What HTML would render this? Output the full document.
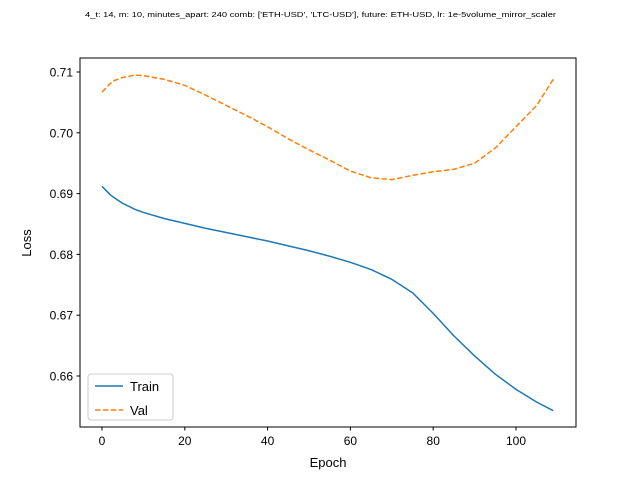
<!DOCTYPE html>
<html><head><meta charset="utf-8">
<style>
body{margin:0;background:#fff;}
svg{display:block;font-family:"Liberation Sans",sans-serif;}
</style></head>
<body>
<svg id="chart" width="640" height="480">
<rect width="640" height="480" fill="#fff"/>
<text x="85" y="17" font-size="7.6" textLength="471" lengthAdjust="spacingAndGlyphs">4_t: 14, m: 10, minutes_apart: 240 comb: ['ETH-USD', 'LTC-USD'], future: ETH-USD, lr: 1e-5volume_mirror_scaler</text>
<g id="plot"></g>
<rect x="80" y="58" width="496" height="369" fill="none" stroke="#000" stroke-width="1"/>
<text x="328" y="467" font-size="13" text-anchor="middle">Epoch</text>
<text x="31" y="243" font-size="13" text-anchor="middle" transform="rotate(-90 31 243)">Loss</text>
<g>
<rect x="88" y="374" width="85" height="46" rx="3" fill="#fff" fill-opacity="0.8" stroke="#ccc"/>
<line x1="95" y1="386" x2="123" y2="386" stroke="#1f77b4" stroke-width="1.5"/>
<text x="130" y="391" font-size="13">Train</text>
<line x1="95" y1="410" x2="123" y2="410" stroke="#ff7f0e" stroke-width="1.5" stroke-dasharray="5.5,2.4"/>
<text x="130" y="415" font-size="13">Val</text>
</g>
</svg>
<script>
const epochs = [0,1,2,3,5,8,10,15,20,25,30,35,40,45,50,55,60,65,70,75,80,85,90,95,100,105,109];
const trainLoss = [0.6912,0.6905,0.6898,0.6893,0.6884,0.6874,0.6869,0.6859,0.6851,0.6843,0.6836,0.6829,0.6822,0.6814,0.6806,0.6797,0.6787,0.6775,0.6759,0.6737,0.6703,0.6666,0.6633,0.6603,0.6578,0.6557,0.6543];
const valLoss = [0.7067,0.7074,0.7081,0.7086,0.7091,0.7095,0.7094,0.7088,0.7078,0.7062,0.7045,0.7028,0.7010,0.6990,0.6972,0.6955,0.6937,0.6926,0.6923,0.6930,0.6936,0.6940,0.6950,0.6975,0.7010,0.7045,0.7088];
const xTicks = [0,20,40,60,80,100];
const yTicks = [0.66,0.67,0.68,0.69,0.70,0.71];

const NS="http://www.w3.org/2000/svg";
const g=document.getElementById('plot');
function xs(v){return 102+(v)*4.14;}
function ys(v){return 72+(0.71-v)*6080;}
function mk(t,a){const e=document.createElementNS(NS,t);for(const k in a)e.setAttribute(k,a[k]);g.appendChild(e);return e;}
xTicks.forEach(t=>{
  const l=mk('line',{x1:xs(t),x2:xs(t),y1:427,y2:430.5,stroke:'#000'});
  
  
  const tx=mk('text',{x:xs(t),y:445,'font-size':12,'text-anchor':'middle'});
  tx.textContent=t;
  
  
});
yTicks.forEach(t=>{
  const l=mk('line',{x1:76.5,x2:80,y1:ys(t),y2:ys(t),stroke:'#000'});
  
  
  const tx=mk('text',{x:73,y:ys(t)+4.5,'font-size':12,'text-anchor':'end'});
  tx.textContent=t.toFixed(2);
  
  
});
function line(vals,color,dash,name){
  const p=mk('polyline',{points:epochs.map((e,i)=>xs(e)+','+ys(vals[i])).join(' '),fill:'none',stroke:color,'stroke-width':1.5,'stroke-linejoin':'round'});
  if(dash)p.setAttribute('stroke-dasharray',dash);
  
  
}
line(trainLoss,'#1f77b4',null,'train-line');
line(valLoss,'#ff7f0e','5.5,2.4','val-line');
</script>
</body></html>
